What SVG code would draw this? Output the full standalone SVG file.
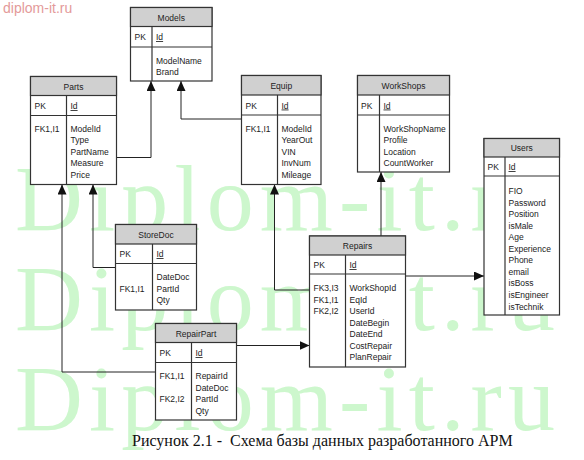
<svg xmlns="http://www.w3.org/2000/svg" width="584" height="460" viewBox="0 0 584 460">
<style>
.wm{font-family:"Liberation Serif","Times New Roman",serif;font-size:94px;fill:#cdf7cd}
.site{font-family:"Liberation Sans",Arial,sans-serif;font-size:14px;fill:#e49a9a}
.frame{fill:#fff;stroke:#333;stroke-width:1.2}
.hdr{fill:#d0d0d0;stroke:#333;stroke-width:1.2}
.ln{stroke:#333;stroke-width:1.2}
.t{font-family:"Liberation Sans",Arial,sans-serif;font-size:8.5px;fill:#222}
.ttl{text-anchor:middle}
.u{text-decoration:underline}
.conn{fill:none;stroke:#222;stroke-width:1}
.cap{font-family:"Liberation Serif","Times New Roman",serif;font-size:16px;fill:#111}
</style>
<defs>
<marker id="arr" viewBox="0 0 10 9" refX="10" refY="4.5" markerWidth="10" markerHeight="9" markerUnits="userSpaceOnUse" orient="auto">
<path d="M0,0 L10,4.5 L0,9 z" fill="#111"/>
</marker>
</defs>
<rect width="584" height="460" fill="#fff"/>
<g id="watermark">
<text class="wm" x="15" y="230" textLength="540" lengthAdjust="spacing">Diplom-it.ru</text>
<text class="wm" x="15" y="330" textLength="540" lengthAdjust="spacing">Diplom-it.ru</text>
<text class="wm" x="15" y="430" textLength="540" lengthAdjust="spacing">Diplom-it.ru</text>
<text class="site" x="3" y="13">diplom-it.ru</text>
</g>
<g id="connectors">
<path class="conn" d="M116.5,157.5 H151 V81" marker-end="url(#arr)"/>
<path class="conn" d="M241.5,119 H181 V81" marker-end="url(#arr)"/>
<path class="conn" d="M115.5,267.5 H93 V184.5" marker-end="url(#arr)"/>
<path class="conn" d="M155.5,372 H62 V184.5" marker-end="url(#arr)"/>
<path class="conn" d="M309.5,290 H274.5 V184.5" marker-end="url(#arr)"/>
<path class="conn" d="M381,236 V172" marker-end="url(#arr)"/>
<path class="conn" d="M405.5,276 H484" marker-end="url(#arr)"/>
<path class="conn" d="M236.5,345.5 H309.5" marker-end="url(#arr)"/>
</g>
<g id="Models">
<rect class="frame" x="130.5" y="7.5" width="81.5" height="73.5"/>
<rect class="hdr" x="130.5" y="7.5" width="81.5" height="19"/>
<line class="ln" x1="130.5" y1="47" x2="212" y2="47"/>
<line class="ln" x1="152" y1="26.5" x2="152" y2="81"/>
<text class="t ttl" x="171.25" y="20.5">Models</text>
<text class="t" x="134.5" y="40">PK</text>
<text class="t u" x="156" y="40">Id</text>
<text class="t" x="156" y="63.5">ModelName</text>
<text class="t" x="156" y="75">Brand</text>
</g>
<g id="Parts">
<rect class="frame" x="30.5" y="76.5" width="86" height="108"/>
<rect class="hdr" x="30.5" y="76.5" width="86" height="19"/>
<line class="ln" x1="30.5" y1="115.5" x2="116.5" y2="115.5"/>
<line class="ln" x1="66.5" y1="95.5" x2="66.5" y2="184.5"/>
<text class="t ttl" x="73.5" y="89.5">Parts</text>
<text class="t" x="34.5" y="109">PK</text>
<text class="t u" x="70.5" y="109">Id</text>
<text class="t" x="34.5" y="131.5">FK1,I1</text>
<text class="t" x="70.5" y="131.5">ModelId</text>
<text class="t" x="70.5" y="143">Type</text>
<text class="t" x="70.5" y="154.6">PartName</text>
<text class="t" x="70.5" y="166.2">Measure</text>
<text class="t" x="70.5" y="177.8">Price</text>
</g>
<g id="Equip">
<rect class="frame" x="241.5" y="75.5" width="79.5" height="109"/>
<rect class="hdr" x="241.5" y="75.5" width="79.5" height="19.5"/>
<line class="ln" x1="241.5" y1="115" x2="321" y2="115"/>
<line class="ln" x1="277.5" y1="95" x2="277.5" y2="184.5"/>
<text class="t ttl" x="281.25" y="88.5">Equip</text>
<text class="t" x="245.5" y="108.5">PK</text>
<text class="t u" x="281.5" y="108.5">Id</text>
<text class="t" x="245.5" y="131.5">FK1,I1</text>
<text class="t" x="281.5" y="131.5">ModelId</text>
<text class="t" x="281.5" y="143">YearOut</text>
<text class="t" x="281.5" y="154.6">VIN</text>
<text class="t" x="281.5" y="166.2">InvNum</text>
<text class="t" x="281.5" y="177.8">Mileage</text>
</g>
<g id="WorkShops">
<rect class="frame" x="357.5" y="75.5" width="92" height="96.5"/>
<rect class="hdr" x="357.5" y="75.5" width="92" height="19.5"/>
<line class="ln" x1="357.5" y1="115" x2="449.5" y2="115"/>
<line class="ln" x1="379.5" y1="95" x2="379.5" y2="172"/>
<text class="t ttl" x="403.5" y="88.5">WorkShops</text>
<text class="t" x="361" y="108.5">PK</text>
<text class="t u" x="383.5" y="108.5">Id</text>
<text class="t" x="383.5" y="131.5">WorkShopName</text>
<text class="t" x="383.5" y="143">Profile</text>
<text class="t" x="383.5" y="154.6">Location</text>
<text class="t" x="383.5" y="166.2">CountWorker</text>
</g>
<g id="Users">
<rect class="frame" x="484" y="138.5" width="75.5" height="176.5"/>
<rect class="hdr" x="484" y="138.5" width="75.5" height="18.5"/>
<line class="ln" x1="484" y1="176" x2="559.5" y2="176"/>
<line class="ln" x1="505" y1="157" x2="505" y2="315"/>
<text class="t ttl" x="521.75" y="151">Users</text>
<text class="t" x="487.5" y="170">PK</text>
<text class="t u" x="508.5" y="170">Id</text>
<text class="t" x="508.5" y="194">FIO</text>
<text class="t" x="508.5" y="205.55">Password</text>
<text class="t" x="508.5" y="217.1">Position</text>
<text class="t" x="508.5" y="228.65">isMale</text>
<text class="t" x="508.5" y="240.2">Age</text>
<text class="t" x="508.5" y="251.75">Experience</text>
<text class="t" x="508.5" y="263.3">Phone</text>
<text class="t" x="508.5" y="274.85">email</text>
<text class="t" x="508.5" y="286.4">isBoss</text>
<text class="t" x="508.5" y="297.95">isEngineer</text>
<text class="t" x="508.5" y="309.5">isTechnik</text>
</g>
<g id="StoreDoc">
<rect class="frame" x="115.5" y="224.5" width="81" height="85.5"/>
<rect class="hdr" x="115.5" y="224.5" width="81" height="19.5"/>
<line class="ln" x1="115.5" y1="263.5" x2="196.5" y2="263.5"/>
<line class="ln" x1="152.5" y1="244" x2="152.5" y2="310"/>
<text class="t ttl" x="156" y="237.5">StoreDoc</text>
<text class="t" x="119.5" y="257">PK</text>
<text class="t u" x="156.5" y="257">Id</text>
<text class="t" x="119.5" y="291.5">FK1,I1</text>
<text class="t" x="156.5" y="280">DateDoc</text>
<text class="t" x="156.5" y="291.5">PartId</text>
<text class="t" x="156.5" y="303">Qty</text>
</g>
<g id="RepairPart">
<rect class="frame" x="155.5" y="323.5" width="81" height="96.5"/>
<rect class="hdr" x="155.5" y="323.5" width="81" height="19"/>
<line class="ln" x1="155.5" y1="362.5" x2="236.5" y2="362.5"/>
<line class="ln" x1="191.5" y1="342.5" x2="191.5" y2="420"/>
<text class="t ttl" x="196" y="336.5">RepairPart</text>
<text class="t" x="159.5" y="356">PK</text>
<text class="t u" x="195.5" y="356">Id</text>
<text class="t" x="159.5" y="379">FK1,I1</text>
<text class="t" x="159.5" y="402">FK2,I2</text>
<text class="t" x="195.5" y="379">RepairId</text>
<text class="t" x="195.5" y="390.5">DateDoc</text>
<text class="t" x="195.5" y="402">PartId</text>
<text class="t" x="195.5" y="413.5">Qty</text>
</g>
<g id="Repairs">
<rect class="frame" x="309.5" y="236" width="96" height="131"/>
<rect class="hdr" x="309.5" y="236" width="96" height="19"/>
<line class="ln" x1="309.5" y1="274" x2="405.5" y2="274"/>
<line class="ln" x1="345.5" y1="255" x2="345.5" y2="367"/>
<text class="t ttl" x="357.5" y="249">Repairs</text>
<text class="t" x="313.5" y="268">PK</text>
<text class="t u" x="349.5" y="268">Id</text>
<text class="t" x="313.5" y="291">FK3,I3</text>
<text class="t" x="313.5" y="302.5">FK1,I1</text>
<text class="t" x="313.5" y="314">FK2,I2</text>
<text class="t" x="349.5" y="291">WorkShopId</text>
<text class="t" x="349.5" y="302.5">EqId</text>
<text class="t" x="349.5" y="314">UserId</text>
<text class="t" x="349.5" y="325.6">DateBegin</text>
<text class="t" x="349.5" y="337.2">DateEnd</text>
<text class="t" x="349.5" y="348.7">CostRepair</text>
<text class="t" x="349.5" y="360.3">PlanRepair</text>
</g>
<text class="cap" x="132" y="446" xml:space="preserve">Рисунок 2.1 -  Схема базы данных разработанного АРМ</text>
</svg>
